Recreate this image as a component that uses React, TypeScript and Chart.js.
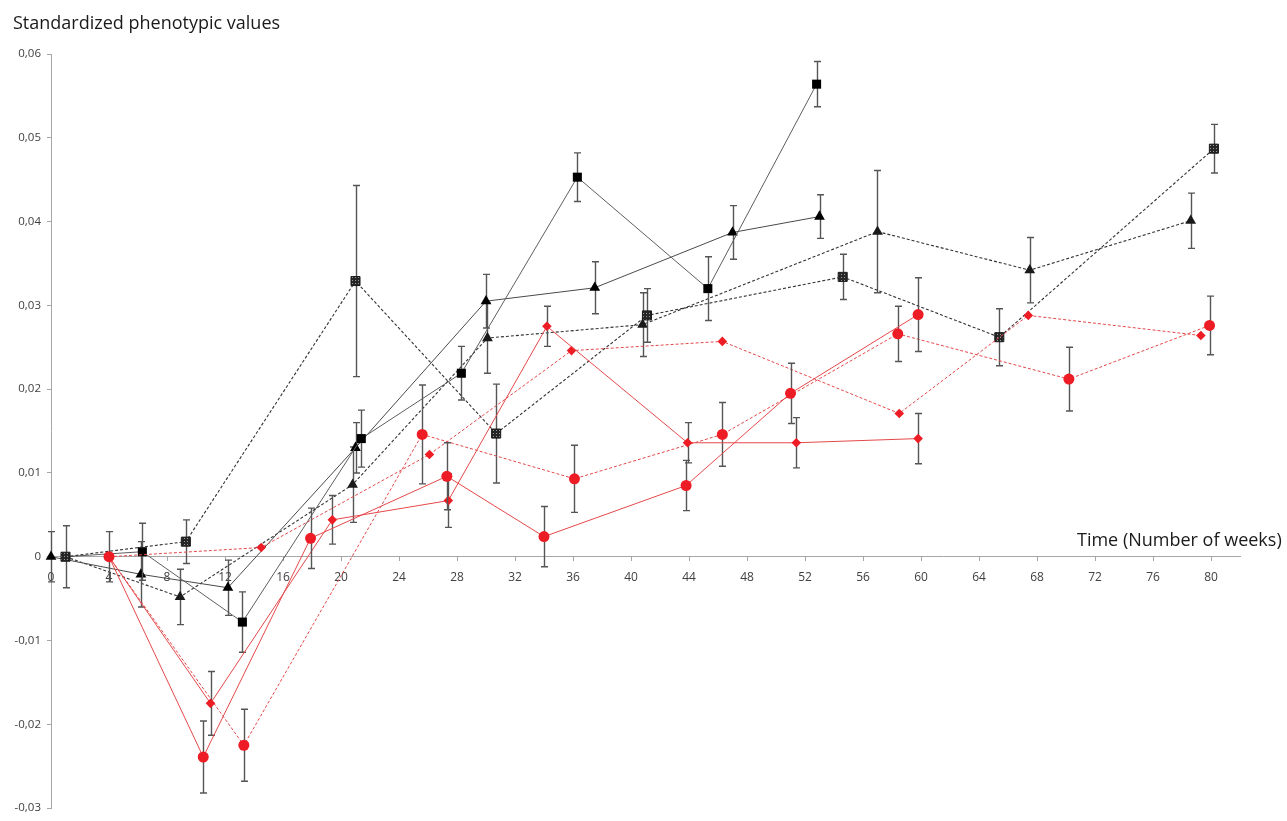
import React, { useEffect, useRef } from 'react';
import { Chart, registerables } from 'chart.js';

Chart.register(...registerables);

// ---------------- data ----------------
// Black solid line, filled squares
const sqWeeks = [1, 6.3, 13.2, 21.4, 28.3, 36.3, 45.3, 52.8];
const sqValues = [0, 0.0006, -0.0078, 0.0141, 0.0219, 0.0453, 0.032, 0.0564];
const sqErrors = [0, 0.0034, 0.0036, 0.0034, 0.0032, 0.0029, 0.0038, 0.0027];

// Black solid line, filled triangles
const triWeeks = [0, 6.2, 12.2, 21.0, 30.0, 37.5, 47.0, 53.0];
const triValues = [0, -0.0021, -0.0037, 0.013, 0.0305, 0.0321, 0.0387, 0.0406];
const triErrors = [0.003, 0.0039, 0.0033, 0.003, 0.0032, 0.0031, 0.0032, 0.0026];

// Black dotted line, hatched squares
const hsqWeeks = [1, 9.3, 21.0, 30.7, 41.1, 54.6, 65.4, 80.2];
const hsqValues = [0, 0.0018, 0.0329, 0.0147, 0.0288, 0.0334, 0.0262, 0.0487];
const hsqErrors = [0.0037, 0.0026, 0.0114, 0.0059, 0.0032, 0.0027, 0.0034, 0.0029];

// Black dotted line, triangles
const dtriWeeks = [1, 8.9, 20.8, 30.1, 40.8, 57.0, 67.5, 78.6];
const dtriValues = [0, -0.0048, 0.0086, 0.0261, 0.0277, 0.0388, 0.0342, 0.0401];
const dtriErrors = [0, 0.0033, 0.0045, 0.0042, 0.0038, 0.0073, 0.0039, 0.0033];

// Red solid line, circles
const rcWeeks = [4, 10.5, 17.9, 27.3, 34.0, 43.8, 51.0, 59.8];
const rcValues = [0, -0.0239, 0.0022, 0.0096, 0.0024, 0.0085, 0.0195, 0.0289];
const rcErrors = [0.003, 0.0043, 0.0036, 0.004, 0.0036, 0.003, 0.0036, 0.0044];

// Red solid line, diamonds
const rdWeeks = [4, 11.0, 19.4, 27.4, 34.2, 43.9, 51.4, 59.8];
const rdValues = [0, -0.0175, 0.0044, 0.0067, 0.0275, 0.0136, 0.0136, 0.0141];
const rdErrors = [0, 0.0038, 0.0029, 0.0032, 0.0024, 0.0024, 0.003, 0.003];

// Red dotted line, circles
const rdcWeeks = [4, 13.3, 25.6, 36.1, 46.3, 58.4, 70.2, 79.9];
const rdcValues = [0, -0.0225, 0.0146, 0.0093, 0.0146, 0.0266, 0.0212, 0.0276];
const rdcErrors = [0, 0.0043, 0.0059, 0.004, 0.0038, 0.0033, 0.0038, 0.0035];

// Red dotted line, diamonds (no error bars)
const rddWeeks = [4, 14.5, 26.1, 35.9, 46.3, 58.5, 67.4, 79.3];
const rddValues = [0, 0.0011, 0.0122, 0.0246, 0.0257, 0.0171, 0.0288, 0.0264];

// axes
const xMin = 0;
const xMax = 82;
const xStep = 4;
const yMin = -0.03;
const yMax = 0.06;
const yStep = 0.01;

const yTitle = 'Standardized phenotypic values';
const xTitle = 'Time (Number of weeks)';

// ---------------- helpers ----------------
const pts = (xs: number[], ys: number[]) => xs.map((x, i) => ({ x, y: ys[i] }));

const errorBarPlugin = {
  id: 'errorBars',
  beforeDatasetDraw(chart: any, args: any) {
    const ds = chart.data.datasets[args.index];
    const errs: number[] | undefined = ds.errors;
    if (!errs) return;
    const ctx = chart.ctx;
    const yScale = chart.scales.y;
    ctx.save();
    ctx.strokeStyle = '#555555';
    ctx.lineWidth = 1.4;
    args.meta.data.forEach((el: any, i: number) => {
      const e = errs[i];
      if (!e) return;
      const v = ds.data[i].y;
      const x = Math.round(el.x) + 0.5;
      const yTop = yScale.getPixelForValue(v + e);
      const yBot = yScale.getPixelForValue(v - e);
      ctx.beginPath();
      ctx.moveTo(x, yTop);
      ctx.lineTo(x, yBot);
      ctx.moveTo(x - 3.5, yTop);
      ctx.lineTo(x + 3.5, yTop);
      ctx.moveTo(x - 3.5, yBot);
      ctx.lineTo(x + 3.5, yBot);
      ctx.stroke();
    });
    ctx.restore();
  },
};

export default function App() {
  const canvasRef = useRef<HTMLCanvasElement | null>(null);

  useEffect(() => {
    const canvas = canvasRef.current;
    if (!canvas) return;
    const ctx2d = canvas.getContext('2d')!;

    // hatched pattern for the grey squares
    const pc = document.createElement('canvas');
    pc.width = 3;
    pc.height = 3;
    const p = pc.getContext('2d')!;
    p.fillStyle = '#262626';
    p.fillRect(0, 0, 3, 3);
    p.fillStyle = '#9a9a9a';
    p.fillRect(1, 1, 1, 1);
    const hatch = ctx2d.createPattern(pc, 'repeat');

    const red = '#ee1c24';
    const redLine = '#e5484a';
    const hideFirst = (r: number) => (c: any) => (c.dataIndex === 0 ? 0 : r);

    const chart = new Chart(canvas, {
      type: 'scatter',
      data: {
        datasets: [
          {
            label: 'red solid circles',
            data: pts(rcWeeks, rcValues),
            errors: rcErrors,
            showLine: true,
            borderColor: redLine,
            borderWidth: 1,
            pointStyle: 'circle',
            pointRadius: 5.5,
            pointBackgroundColor: red,
            pointBorderColor: red,
            pointBorderWidth: 0,
          } as any,
          {
            label: 'red solid diamonds',
            data: pts(rdWeeks, rdValues),
            errors: rdErrors,
            showLine: true,
            borderColor: redLine,
            borderWidth: 1,
            pointStyle: 'rectRot',
            pointRadius: 4.8,
            pointBackgroundColor: red,
            pointBorderColor: red,
            pointBorderWidth: 0,
          } as any,
          {
            label: 'red dotted circles',
            data: pts(rdcWeeks, rdcValues),
            errors: rdcErrors,
            showLine: true,
            borderColor: redLine,
            borderWidth: 1,
            borderDash: [3, 2],
            pointStyle: 'circle',
            pointRadius: hideFirst(5.5),
            pointBackgroundColor: red,
            pointBorderColor: red,
            pointBorderWidth: 0,
          } as any,
          {
            label: 'red dotted diamonds',
            data: pts(rddWeeks, rddValues),
            showLine: true,
            borderColor: redLine,
            borderWidth: 1,
            borderDash: [3, 2],
            pointStyle: 'rectRot',
            pointRadius: hideFirst(4.8),
            pointBackgroundColor: red,
            pointBorderColor: red,
            pointBorderWidth: 0,
          } as any,
          {
            label: 'hatched squares',
            data: pts(hsqWeeks, hsqValues),
            errors: hsqErrors,
            showLine: true,
            borderColor: '#333333',
            borderWidth: 1.1,
            borderDash: [3, 2],
            pointStyle: 'rect',
            pointRadius: 6.4,
            pointBackgroundColor: hatch,
            pointBorderColor: '#1a1a1a',
            pointBorderWidth: 1,
          } as any,
          {
            label: 'black squares',
            data: pts(sqWeeks, sqValues),
            errors: sqErrors,
            showLine: true,
            borderColor: '#5e5e5e',
            borderWidth: 1,
            pointStyle: 'rect',
            pointRadius: hideFirst(6.4),
            pointBackgroundColor: '#000000',
            pointBorderColor: '#000000',
            pointBorderWidth: 0,
          } as any,
          {
            label: 'black triangles',
            data: pts(triWeeks, triValues),
            errors: triErrors,
            showLine: true,
            borderColor: '#4a4a4a',
            borderWidth: 1,
            pointStyle: 'triangle',
            pointRadius: 6.2,
            pointBackgroundColor: '#000000',
            pointBorderColor: '#000000',
            pointBorderWidth: 0,
          } as any,
          {
            label: 'dotted triangles',
            data: pts(dtriWeeks, dtriValues),
            errors: dtriErrors,
            showLine: true,
            borderColor: '#333333',
            borderWidth: 1.1,
            borderDash: [3, 2],
            pointStyle: 'triangle',
            pointRadius: hideFirst(6.2),
            pointBackgroundColor: '#1a1a1a',
            pointBorderColor: '#1a1a1a',
            pointBorderWidth: 0,
          } as any,
        ],
      },
      options: {
        responsive: false,
        animation: false,
        devicePixelRatio: 1,
        clip: false as any,
        layout: { padding: { left: 0, top: 54, right: 47, bottom: 7 } },
        plugins: {
          legend: { display: false },
          tooltip: { enabled: false },
          title: { display: false },
        },
        elements: { line: { tension: 0 } },
        scales: {
          x: {
            type: 'linear',
            position: { y: 0 } as any,
            min: xMin,
            max: xMax,
            afterFit: (s: any) => {
              s.height = 0;
            },
            ticks: {
              stepSize: xStep,
              includeBounds: false,
              padding: 10,
              color: '#404040',
              font: { family: '"Open Sans", sans-serif', size: 12 },
              maxRotation: 0,
              autoSkip: false,
            },
            grid: {
              display: true,
              drawOnChartArea: false,
              drawTicks: true,
              tickLength: 4,
              color: '#a6a6a6',
            },
            border: { display: true, color: '#a6a6a6', width: 1 },
          },
          y: {
            type: 'linear',
            position: 'left',
            min: yMin,
            max: yMax,
            afterFit: (s: any) => {
              s.width = 51;
            },
            ticks: {
              stepSize: yStep,
              padding: 6,
              color: '#404040',
              font: { family: '"Open Sans", sans-serif', size: 11.5 },
              callback: (v: any) =>
                Math.abs(v) < 1e-9 ? '0' : Number(v).toFixed(2).replace('.', ','),
            },
            grid: {
              display: true,
              drawOnChartArea: false,
              drawTicks: true,
              tickLength: 4,
              color: '#a6a6a6',
            },
            border: { display: true, color: '#a6a6a6', width: 1 },
          },
        },
      } as any,
      plugins: [errorBarPlugin],
    });

    return () => chart.destroy();
  }, []);

  return (
    <div
      style={{
        position: 'fixed',
        left: 0,
        top: 0,
        width: 1287,
        height: 821,
        background: '#ffffff',
        overflow: 'hidden',
      }}
    >
      <canvas ref={canvasRef} width={1287} height={821} style={{ display: 'block' }} />
      <div
        style={{
          position: 'absolute',
          left: 13,
          top: 10,
          fontFamily: '"Open Sans", sans-serif',
          fontSize: 18,
          color: '#1a1a1a',
          whiteSpace: 'nowrap',
        }}
      >
        {yTitle}
      </div>
      <div
        style={{
          position: 'absolute',
          left: 1077,
          top: 527,
          fontFamily: '"Open Sans", sans-serif',
          fontSize: 18,
          color: '#1a1a1a',
          whiteSpace: 'nowrap',
        }}
      >
        {xTitle}
      </div>
    </div>
  );
}
